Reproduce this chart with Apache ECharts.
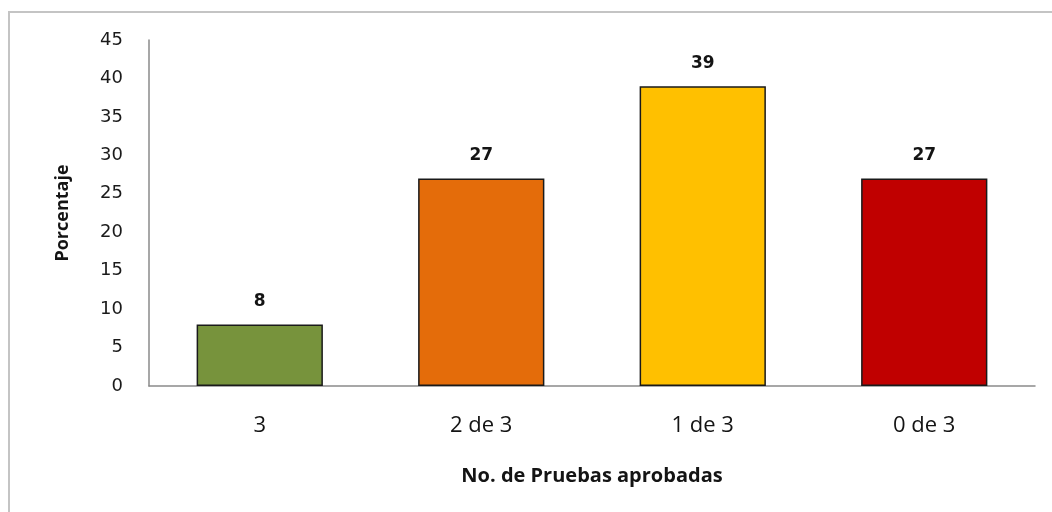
<!DOCTYPE html>
<html>
<head>
<meta charset="utf-8">
<script src="https://cdn.jsdelivr.net/npm/echarts@6/dist/echarts.min.js"></script>
<style>
  html, body { margin: 0; padding: 0; background: #ffffff; }
  #chart { width: 1052px; height: 512px; }
</style>
</head>
<body>
<div id="chart"></div>
<script>
// Categories: number of tests passed
const categories = ['3', '2 de 3', '1 de 3', '0 de 3'];
// Percentage of participants in each category
const percentages = [8, 27, 39, 27];
// Fill colour of each bar
const barColors = ['#77933c', '#e46c0a', '#ffc000', '#c00000'];
// Y axis range and step
const yMin = 0;
const yMax = 45;
const yStep = 5;

const chart = echarts.init(document.getElementById('chart'), null, { renderer: 'canvas' });

const option = {
  backgroundColor: '#ffffff',
  animation: false,
  graphic: [{
    type: 'rect',
    shape: { x: 9, y: 12, width: 1100, height: 600 },
    style: { fill: 'none', stroke: '#c4c4c4', lineWidth: 2 },
    silent: true,
    z: -10
  }],
  grid: { left: 149, right: 17, top: 40, bottom: 126 },
  xAxis: {
    type: 'category',
    data: categories,
    name: 'No. de Pruebas aprobadas',
    nameLocation: 'middle',
    nameGap: 80,
    nameTextStyle: {
      fontFamily: 'Open Sans', fontWeight: 'bold', fontSize: 20, color: '#141414'
    },
    axisLine: { lineStyle: { color: '#8a8a8a', width: 1.5 } },
    axisTick: { show: false },
    axisLabel: {
      margin: 29, fontFamily: 'Open Sans', fontSize: 22, color: '#141414'
    }
  },
  yAxis: {
    type: 'value',
    min: yMin,
    max: yMax,
    interval: yStep,
    name: 'Porcentaje',
    nameLocation: 'middle',
    nameGap: 77,
    nameRotate: 90,
    nameTextStyle: {
      fontFamily: 'Open Sans', fontWeight: 'bold', fontSize: 18, color: '#141414'
    },
    axisLine: { show: true, lineStyle: { color: '#8a8a8a', width: 1.5 } },
    axisTick: { show: false },
    splitLine: { show: false },
    axisLabel: {
      margin: 26, fontFamily: 'DejaVu Sans', fontSize: 18, color: '#1a1a1a'
    }
  },
  series: [{
    type: 'bar',
    barWidth: '57%',
    data: percentages.map((v, i) => ({
      value: v,
      itemStyle: { color: barColors[i] }
    })),
    itemStyle: { borderColor: '#1a1a1a', borderWidth: 1.5 },
    label: {
      show: true,
      position: 'top',
      distance: 14,
      fontFamily: 'DejaVu Sans',
      fontWeight: 'bold',
      fontSize: 17,
      color: '#141414'
    }
  }]
};

chart.setOption(option);
</script>
</body>
</html>
